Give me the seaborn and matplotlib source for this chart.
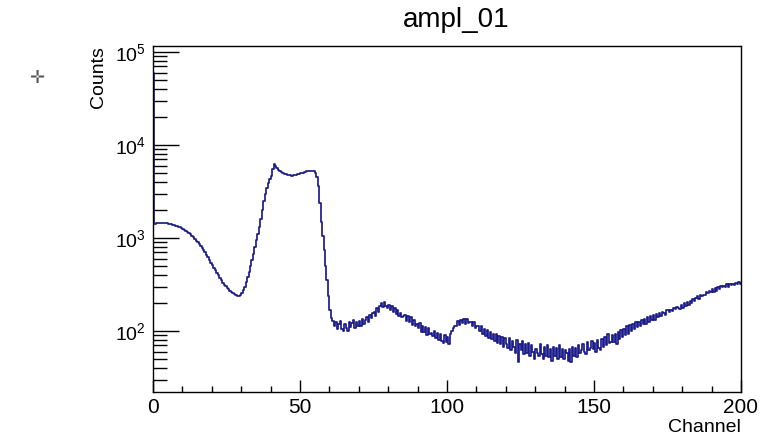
import numpy as np
import pandas as pd
import matplotlib
matplotlib.use("Agg")
import matplotlib.pyplot as plt
import matplotlib.ticker as mticker
import seaborn as sns

# Histogram "ampl_01": 400 bins of 0.5 channel from 0 to 200
bin_width = 0.5
counts = [
    60000, 1420, 1440, 1445, 1450, 1452, 1450, 1446, 1440, 1436,
    1430, 1415, 1400, 1385, 1370, 1355, 1340, 1320, 1300, 1280,
    1260, 1230, 1200, 1165, 1130, 1095, 1060, 1020, 980, 940,
    900, 860, 820, 780, 740, 700, 660, 620, 580, 545,
    510, 480, 450, 425, 400, 375, 350, 332, 315, 302,
    290, 280, 270, 262, 255, 248, 242, 238, 236, 244,
    255, 275, 300, 335, 380, 435, 500, 585, 680, 800,
    950, 1100, 1300, 1600, 2000, 2500, 3000, 3450, 3900, 4300,
    4700, 5500, 6300, 6000, 5700, 5400, 5200, 5100, 5000, 4900,
    4850, 4800, 4750, 4720, 4700, 4720, 4750, 4800, 4850, 4900,
    4950, 5000, 5050, 5120, 5200, 5250, 5300, 5320, 5300, 5200,
    5000, 4500, 3600, 2400, 1500, 1050, 750, 500, 350, 240,
    170, 138, 128, 112, 126, 104, 118, 128, 106, 100,
    120, 108, 100, 126, 110, 122, 130, 108, 124, 114,
    128, 114, 136, 118, 132, 142, 124, 150, 138, 156,
    162, 146, 176, 160, 186, 198, 180, 204, 186, 178,
    192, 170, 184, 162, 176, 154, 168, 146, 158, 140,
    146, 150, 128, 144, 124, 140, 116, 132, 112, 118,
    108, 122, 98, 114, 98, 110, 90, 108, 94, 96,
    88, 100, 84, 96, 80, 94, 78, 74, 90, 76,
    86, 72, 94, 100, 108, 114, 112, 128, 116, 132,
    122, 134, 120, 136, 122, 126, 124, 114, 124, 108,
    114, 112, 100, 112, 94, 106, 88, 102, 84, 98,
    82, 94, 78, 92, 74, 88, 72, 86, 68, 84,
    72, 66, 84, 62, 78, 68, 58, 80, 46, 72,
    62, 78, 56, 72, 58, 74, 54, 70, 60, 50,
    64, 58, 54, 72, 56, 50, 68, 54, 70, 52,
    64, 48, 68, 54, 66, 50, 70, 52, 64, 50,
    62, 58, 48, 64, 46, 68, 54, 66, 52, 70,
    58, 62, 72, 60, 56, 76, 62, 66, 78, 64,
    74, 60, 80, 66, 62, 82, 68, 86, 70, 92,
    74, 76, 90, 76, 94, 72, 98, 82, 102, 86,
    106, 90, 112, 94, 116, 100, 118, 104, 124, 110,
    126, 112, 132, 118, 136, 120, 140, 126, 144, 132,
    148, 132, 154, 140, 158, 146, 162, 156, 150, 170,
    168, 162, 170, 166, 176, 172, 180, 178, 174, 192,
    176, 198, 184, 204, 192, 212, 200, 220, 208, 228,
    236, 220, 242, 236, 246, 244, 262, 256, 266, 262,
    284, 262, 290, 272, 298, 280, 302, 294, 304, 298,
    318, 300, 322, 312, 320, 316, 328, 320, 336, 322,
]
x_ticks = [0, 50, 100, 150, 200]
title = "ampl_01"
x_label = "Channel"
y_label = "Counts"

n_bins = len(counts)
centers = (np.arange(n_bins) + 0.5) * bin_width
df = pd.DataFrame({"Channel": centers, "Counts": counts})

sns.set_style("white")
plt.rcParams["font.family"] = ["Liberation Sans", "DejaVu Sans"]
plt.rcParams["mathtext.fontset"] = "custom"
plt.rcParams["mathtext.rm"] = "Liberation Sans"
plt.rcParams["mathtext.it"] = "Liberation Sans"
plt.rcParams["text.color"] = "black"
plt.rcParams["xtick.color"] = "black"
plt.rcParams["ytick.color"] = "black"
plt.rcParams["xtick.labelcolor"] = "black"
plt.rcParams["ytick.labelcolor"] = "black"

W, H = 779, 441
fig = plt.figure(figsize=(W / 100, H / 100), dpi=100)
fig.patch.set_facecolor("white")
ax = fig.add_axes([153 / W, 1 - 392 / H, (741 - 153) / W, (392 - 46) / H])

sns.histplot(data=df, x="Channel", weights="Counts", bins=n_bins,
             binrange=(0, n_bins * bin_width),
             element="step", fill=False, color="#1c1c8a", linewidth=1.25,
             ax=ax)
ax.set_yscale("log")
ax.set_xlim(0, 200)
ax.set_ylim(10 ** 1.344, 10 ** 5.065)

for s in ax.spines.values():
    s.set_visible(True)
    s.set_color("black")
    s.set_linewidth(1.0)

ax.xaxis.set_major_locator(mticker.FixedLocator(x_ticks))
ax.xaxis.set_minor_locator(mticker.MultipleLocator(10))
ax.yaxis.set_major_locator(mticker.LogLocator(base=10, numticks=10))
ax.yaxis.set_minor_locator(mticker.LogLocator(base=10, subs=np.arange(2, 10), numticks=20))
ax.yaxis.set_minor_formatter(mticker.NullFormatter())
ax.tick_params(axis="x", which="major", direction="in", length=9, width=1,
               labelsize=15, pad=4, top=False, bottom=True, color="black",
               labelcolor="black")
ax.tick_params(axis="x", which="minor", direction="in", length=4, width=1,
               top=False, bottom=True, color="black")
ax.tick_params(axis="y", which="major", direction="in", length=19, width=1,
               labelsize=14, pad=5, right=False, left=True, color="black",
               labelcolor="black")
ax.tick_params(axis="y", which="minor", direction="in", length=10, width=1,
               right=False, left=True, color="black")
ax.set_xlabel("")
ax.set_ylabel("")
ax.grid(False)

fig.text(456 / W, 1 - 20 / H, title, ha="center", va="center", fontsize=20,
         color="black")
fig.text(741 / W, 1 - 427 / H, x_label, ha="right", va="center", fontsize=14,
         color="black")
fig.text(98 / W, 1 - 46 / H, y_label, ha="center", va="top", rotation=90,
         fontsize=14, color="black")
fig.text(37 / W, 1 - 78 / H, "✛", ha="center", va="center", fontsize=13,
         color="#555555", family=["DejaVu Sans"])

fig.savefig("out.png", dpi=100, facecolor="white")
